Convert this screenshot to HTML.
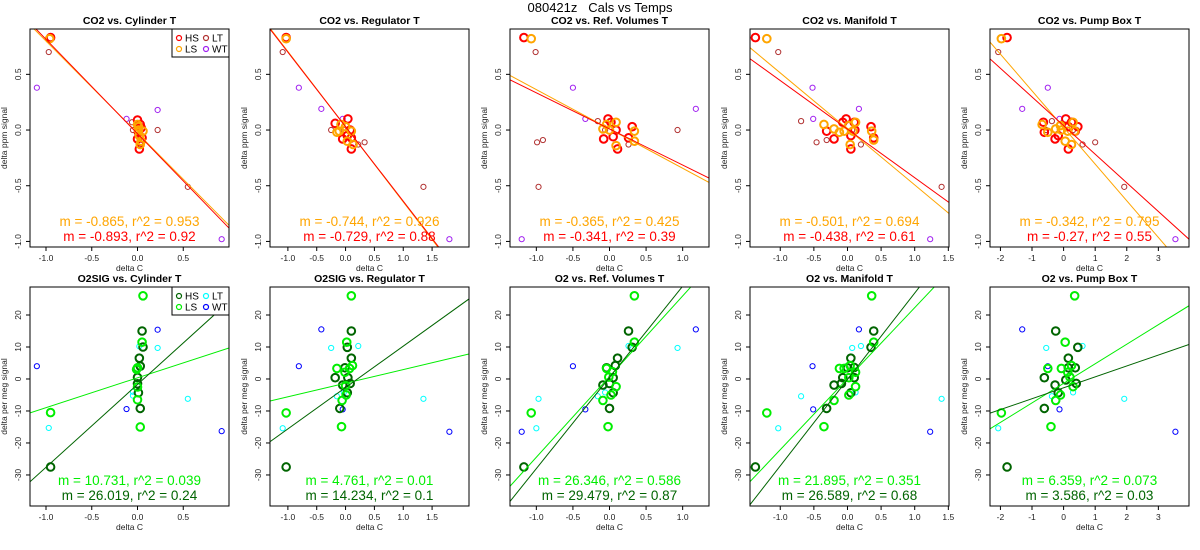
<!DOCTYPE html>
<html><head><meta charset="utf-8">
<style>
html,body{margin:0;padding:0;background:#fff;}
svg{display:block;font-family:"Liberation Sans",Arial,sans-serif;}
</style></head>
<body>
<svg id="chart" width="1200" height="550" viewBox="0 0 1200 550" xmlns="http://www.w3.org/2000/svg">
<text x="600" y="12" text-anchor="middle" font-size="13" style="white-space:pre" xml:space="preserve">080421z   Cals vs Temps</text>
</svg>
<script>
const panelTitles = ["CO2 vs. Cylinder T","CO2 vs. Regulator T","CO2 vs. Ref. Volumes T","CO2 vs. Manifold T","CO2 vs. Pump Box T",
  "O2SIG vs. Cylinder T","O2SIG vs. Regulator T","O2 vs. Ref. Volumes T","O2 vs. Manifold T","O2 vs. Pump Box T"];
const xDomains = [[-1.175,1.0],[-1.31,2.14],[-1.36,1.36],[-1.45,1.51],[-2.33,3.97]];
const xTickVals = [[-1.0,-0.5,0.0,0.5],[-1.0,-0.5,0.0,0.5,1.0,1.5],[-1.0,-0.5,0.0,0.5,1.0],[-1.0,-0.5,0.0,0.5,1.0,1.5],[-2,-1,0,1,2,3]];
const xTickLabels = [["-1.0","-0.5","0.0","0.5"],["-1.0","-0.5","0.0","0.5","1.0","1.5"],["-1.0","-0.5","0.0","0.5","1.0"],["-1.0","-0.5","0.0","0.5","1.0","1.5"],["-2","-1","0","1","2","3"]];
const yDomainTop = [-1.05,0.907];
const yDomainBot = [-39.7,28.75];
const yTicksTop = [-1.0,-0.5,0.0,0.5];
const yTickLabelsTop = ["-1.0","-0.5","0.0","0.5"];
const yTicksBot = [-30,-20,-10,0,10,20];
const yTickLabelsBot = ["-30","-20","-10","0","10","20"];
const groups = ["HS","LS","LT","WT"];
const colorsTop = ["#ff0000","#ffa500","#b03030","#a020f0"];
const colorsBot = ["#006400","#00ee00","#00ffff","#0000ff"];
const co2HS = [
 [[-0.95,0.83],[0,0.09],[0,-0.08],[0.02,-0.17],[0.05,-0.07],[0.03,0.05],[0.01,-0.02],[0.04,0.02]],
 [[-1.03,0.83],[-0.18,0.06],[0.04,0.1],[-0.05,-0.08],[0.1,-0.07],[0.1,-0.17],[0.08,0.0],[0.03,-0.05]],
 [[-1.17,0.83],[-0.02,0.1],[-0.08,-0.08],[0.05,-0.06],[0.09,0.0],[0.11,-0.17],[0.26,-0.07],[0.31,0.03],[0.02,0.07]],
 [[-1.37,0.83],[-0.02,0.1],[-0.2,-0.08],[-0.31,-0.01],[-0.07,0.07],[0.05,-0.05],[0.05,-0.17],[0.1,0.07],[0.35,0.03],[0.39,-0.07],[0.11,0.0]],
 [[-1.79,0.83],[-0.64,0.07],[-0.61,-0.02],[-0.27,-0.08],[-0.17,-0.05],[0.07,0.1],[0.15,-0.17],[0.25,0.07],[0.45,0.03],[0.37,-0.01],[0.15,0.03]]];
const co2LS = [
 [[-0.96,0.82],[0.01,0.0],[0.03,-0.13],[0.06,-0.01],[0.0,0.05],[0.02,-0.05],[0.04,-0.1],[0.01,0.03]],
 [[-1.03,0.82],[-0.15,-0.02],[0.03,-0.1],[0.13,-0.13],[-0.08,0.05],[0,0.03],[0.1,-0.01],[-0.11,-0.01]],
 [[-1.07,0.82],[-0.09,0.01],[0.09,-0.14],[0.34,-0.1],[0.34,-0.01],[0.09,0.07],[0,0],[-0.04,0.05]],
 [[-1.2,0.82],[-0.35,0.05],[-0.2,0.01],[-0.12,-0.02],[0.02,0.04],[0.12,0.07],[0.04,-0.13],[0.36,-0.01],[0.39,-0.09],[-0.05,-0.01],[0.08,-0.01]],
 [[-1.97,0.82],[-0.68,0.05],[-0.5,-0.02],[-0.25,0.01],[-0.1,0.04],[-0.07,0],[0.05,-0.1],[0.25,-0.13],[0.3,0.07],[0.35,-0.01],[0.13,-0.01]]];
const co2LT = [
 [[-0.97,0.7],[0.55,-0.51],[0.22,0.0],[-0.06,0.07],[-0.05,0.0],[0.03,-0.13]],
 [[-1.09,0.7],[1.35,-0.51],[-0.25,0.0],[0.22,-0.13],[-0.03,0],[0.33,-0.11]],
 [[-1.01,0.7],[-0.97,-0.51],[0.93,0],[-0.16,0.08],[0.26,-0.13],[-0.06,0.0],[-0.99,-0.11],[-0.91,-0.09]],
 [[-1.03,0.7],[1.4,-0.51],[-0.69,0.08],[0.2,-0.13],[0.07,0],[-0.46,-0.11],[-0.31,-0.09]],
 [[-2.07,0.7],[1.92,-0.51],[-0.37,0.08],[0.6,-0.13],[-0.55,0],[0.3,0],[1.0,-0.11]]];
const co2WT = [
 [[-1.1,0.38],[0.22,0.18],[-0.12,0.1],[0.92,-0.98]],
 [[-0.81,0.38],[-0.42,0.19],[-0.05,0.1],[1.8,-0.98]],
 [[-0.5,0.38],[1.18,0.19],[-0.33,0.1],[-1.2,-0.98]],
 [[-0.52,0.38],[-0.51,0.1],[0.17,0.19],[1.23,-0.98]],
 [[-0.5,0.38],[-1.31,0.19],[-0.13,0.1],[3.54,-0.98]]];
const o2HS = [
 [[-0.95,-27.5],[0.05,15],[0.06,10],[0.02,6.5],[0.03,4],[0,0.5],[0.0,-1.5],[0.01,-4.3],[0.03,-9.2]],
 [[-1.03,-27.5],[0.1,15],[0.03,9.9],[0.1,6.5],[-0.01,3.5],[-0.18,0.4],[0.04,0.4],[0.08,-1.4],[-0.05,-1.9],[0.03,-4.3],[-0.1,-9.2]],
 [[-1.17,-27.5],[0.26,15],[0.31,9.9],[0.11,6.5],[0.08,4.2],[0.05,0.4],[-0.09,-1.9],[0,-1.4],[0.05,-4.3],[0,-9.2],[-0.04,3.5]],
 [[-1.37,-27.5],[0.39,15],[0.35,9.9],[0.05,6.5],[0.1,3.6],[-0.07,0.4],[0.1,0.4],[-0.2,-1.9],[-0.09,-1.4],[0.05,-4.3],[-0.31,-9.2],[0,3.5]],
 [[-1.79,-27.5],[-0.25,15],[0.45,9.9],[0.15,6.5],[0.37,3.5],[0.15,3.5],[-0.61,0.4],[0.07,-0.3],[-0.27,-1.9],[0.4,-1.4],[-0.17,-4.3],[-0.61,-9.2]]];
const o2LS = [
 [[0.06,26],[-0.95,-10.5],[0.05,11.5],[0.0,3.5],[-0.01,3],[0,-2.5],[0,-6.5],[0.03,-15]],
 [[0.1,26],[-1.03,-10.6],[0.02,11.5],[-0.15,3.3],[0.12,4.2],[0.07,3.3],[-0.01,2.1],[0,-2.1],[0.01,-5],[-0.06,-6.7],[-0.07,-14.9]],
 [[0.34,26],[-1.07,-10.6],[0.34,11.5],[-0.04,3.3],[0.04,2.3],[0.09,-2.4],[0.02,-5],[-0.09,-6.7],[-0.02,-14.9],[-0.01,0.6]],
 [[0.36,26],[-1.2,-10.6],[0.39,11.5],[-0.12,3.3],[-0.05,3.3],[0.04,4.2],[0.12,2.1],[0.12,-2.4],[0.02,-5],[-0.2,-6.7],[-0.35,-14.9],[0.02,0.4]],
 [[0.35,26],[-1.97,-10.6],[0.05,11.5],[-0.5,3.3],[-0.07,3.3],[0.25,4.2],[0.13,2.1],[0.3,-2.4],[-0.1,-5],[-0.25,-6.7],[-0.4,-14.9],[0.2,0.6]]];
const o2LT = [
 [[-0.97,-15.3],[0.22,9.7],[0.55,-6.2],[-0.05,-5.2],[0.02,10.2],[-0.05,-4]],
 [[-1.09,-15.4],[1.35,-6.2],[-0.25,9.7],[0.22,10.3],[-0.15,-5.4],[-0.03,-4.2]],
 [[-0.97,-6.2],[-1.0,-15.4],[0.93,9.7],[0.26,10.3],[-0.16,-5.4],[-0.06,-4.2]],
 [[-1.03,-15.4],[1.4,-6.2],[-0.69,-5.4],[0.07,9.7],[0.2,10.3],[0.12,-4.2]],
 [[-2.07,-15.4],[1.92,-6.2],[-0.55,9.7],[0.6,10.3],[-0.37,-5.4],[0.3,-4.2]]];
const o2WT = [
 [[-1.1,4],[0.22,15.4],[-0.12,-9.4],[0.92,-16.3]],
 [[-0.81,4],[-0.42,15.5],[-0.05,-9.5],[1.8,-16.5]],
 [[-0.5,4],[1.18,15.5],[-0.33,-9.5],[-1.2,-16.5]],
 [[-0.52,4],[-0.51,-9.5],[0.17,15.5],[1.23,-16.5]],
 [[-0.5,4],[-1.31,15.5],[-0.13,-9.5],[3.54,-16.5]]];
const co2FitHS = [[-0.847,-0.033],[-0.669,0.03],[-0.324,0.01],[-0.436,0.008],[-0.257,0.04]];
const co2FitLS = [[-0.827,-0.028],[-0.675,0.03],[-0.353,0.01],[-0.503,0.01],[-0.329,0.023]];
const o2FitHS = [[25.9,-1.7],[12.93,-2.66],[28.5,0.5],[27.0,-0.15],[3.41,-2.75]];
const o2FitLS = [[9.33,0.37],[4.26,-1.32],[25.2,0.75],[22.2,0.1],[6.11,-1.36]];
const co2StatLS = ["m = -0.865, r^2 = 0.953","m = -0.744, r^2 = 0.926","m = -0.365, r^2 = 0.425","m = -0.501, r^2 = 0.694","m = -0.342, r^2 = 0.795"];
const co2StatHS = ["m = -0.893, r^2 = 0.92","m = -0.729, r^2 = 0.88","m = -0.341, r^2 = 0.39","m = -0.438, r^2 = 0.61","m = -0.27, r^2 = 0.55"];
const o2StatLS = ["m = 10.731, r^2 = 0.039","m = 4.761, r^2 = 0.01","m = 26.346, r^2 = 0.586","m = 21.895, r^2 = 0.351","m = 6.359, r^2 = 0.073"];
const o2StatHS = ["m = 26.019, r^2 = 0.24","m = 14.234, r^2 = 0.1","m = 29.479, r^2 = 0.87","m = 26.589, r^2 = 0.68","m = 3.586, r^2 = 0.03"];

const NS = "http://www.w3.org/2000/svg";
const svg = document.getElementById('chart');
function mk(tag, attrs, parent){const e=document.createElementNS(NS,tag);for(const k in attrs)e.setAttribute(k,attrs[k]);(parent||svg).appendChild(e);return e;}

for (let row=0; row<2; row++){
  for (let c=0; c<5; c++){
    const idx = row*5+c;
    const L = 30+240*c, R = L+199;
    const T = row===0 ? 29 : 287, B = row===0 ? 247 : 506;
    const xd = xDomains[c], yd = row===0 ? yDomainTop : yDomainBot;
    const sx = v => L + (v-xd[0])/(xd[1]-xd[0])*(R-L);
    const sy = v => B - (v-yd[0])/(yd[1]-yd[0])*(B-T);
    const g = mk('g',{});
    
    
    const clipId='clip'+idx;
    const cp=mk('clipPath',{id:clipId},g); mk('rect',{x:L,y:T,width:R-L,height:B-T},cp);
    const title = mk('text',{x:(L+R)/2,y:T-5,'text-anchor':'middle','font-size':'10.5','font-weight':'bold'},g);
    title.textContent = panelTitles[idx];
    
    
    xTickVals[c].forEach((v,i)=>{
      const x=sx(v);
      mk('line',{x1:x,x2:x,y1:B,y2:B+4,stroke:'#000','stroke-width':1},g);
      const t=mk('text',{x:x,y:B+14,'text-anchor':'middle','font-size':'8.5',fill:'#222'},g);
      t.textContent=xTickLabels[c][i];
      
      
    });
    const yt = row===0?yTicksTop:yTicksBot, ytl = row===0?yTickLabelsTop:yTickLabelsBot;
    yt.forEach((v,i)=>{
      const y=sy(v);
      mk('line',{x1:L-4,x2:L,y1:y,y2:y,stroke:'#000','stroke-width':1},g);
      const t=mk('text',{x:L-9,y:y,'text-anchor':'middle','font-size':'8.5',fill:'#222',transform:`rotate(-90 ${L-9} ${y})`},g);
      t.textContent=ytl[i];
      
      
    });
    const xl=mk('text',{x:(L+R)/2,y:B+24,'text-anchor':'middle','font-size':'8.5',fill:'#222'},g);
    xl.textContent='delta C';
    
    
    const yc=(T+B)/2;
    const yl=mk('text',{x:L-23,y:yc,'text-anchor':'middle','font-size':'8.5',fill:'#222',transform:`rotate(-90 ${L-23} ${yc})`},g);
    yl.textContent = row===0?'delta ppm signal':'delta per meg signal';
    
    
    const cols = row===0?colorsTop:colorsBot;
    const sets = row===0?[co2HS,co2LS,co2LT,co2WT]:[o2HS,o2LS,o2LT,o2WT];
    const pg = mk('g',{'clip-path':`url(#${clipId})`},g);
    const drawOrder=[2,3,0,1];
    drawOrder.forEach(gi=>{
      sets[gi][c].forEach(p=>{
        const thick = gi<2;
        const circ=mk('circle',{cx:sx(p[0]),cy:sy(p[1]),r:thick?3.8:2.6,fill:'none',stroke:cols[gi],'stroke-width':thick?2:1},pg);
        
        
      });
    });
    const fits = row===0?[co2FitHS,co2FitLS]:[o2FitHS,o2FitLS];
    [1,0].forEach(fi=>{
      const f=fits[fi][c];
      const ln=mk('line',{x1:sx(xd[0]),y1:sy(f[0]*xd[0]+f[1]),x2:sx(xd[1]),y2:sy(f[0]*xd[1]+f[1]),stroke:cols[fi],'stroke-width':1},pg);
      
      
    });
    const s1=mk('text',{x:(L+R)/2,y:B-21,'text-anchor':'middle','font-size':'13.5',fill:cols[1]},g);
    s1.textContent = row===0?co2StatLS[c]:o2StatLS[c];
    
    
    const s2=mk('text',{x:(L+R)/2,y:B-6,'text-anchor':'middle','font-size':'13.5',fill:cols[0]},g);
    s2.textContent = row===0?co2StatHS[c]:o2StatHS[c];
    
    
    mk('rect',{x:L,y:T,width:R-L,height:B-T,fill:'none',stroke:'#000','stroke-width':1},g);
    if(c===0){
      const lg=mk('g',{},g);
      
      
      mk('rect',{x:172,y:T,width:57,height:28,fill:'#fff',stroke:'#000','stroke-width':1},lg);
      groups.forEach((nm,gi)=>{
        const cx = gi%2===0?179:206, cy = T+(gi<2?9:20);
        const realIdx = [0,2,1,3][gi];
        const name = groups[realIdx];
        mk('circle',{cx:cx,cy:cy,r:2.5,fill:'none',stroke:cols[realIdx],'stroke-width':1.2},lg);
        const t=mk('text',{x:cx+6,y:cy+3.5,'font-size':'10'},lg);
        t.textContent=name;
        
        
      });
    }
  }
}
</script>
</body></html>
